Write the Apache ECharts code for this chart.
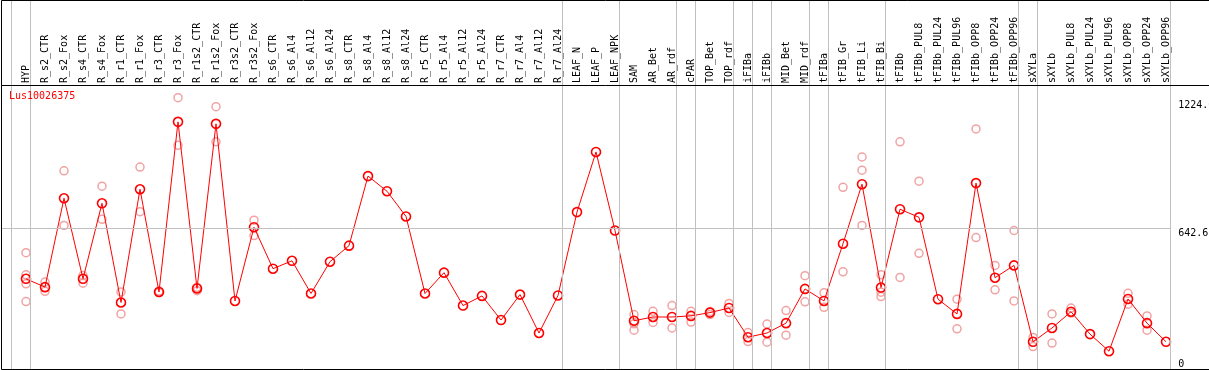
<!DOCTYPE html>
<html>
<head>
<meta charset="utf-8">
<script src="https://cdn.jsdelivr.net/npm/echarts@6/dist/echarts.min.js"></script>
<style>
html,body{margin:0;padding:0;background:#fff;}
#chart{width:1209px;height:370px;}
</style>
</head>
<body>
<div id="chart"></div>
<script>
// ---------- data ----------
const geneName = 'Lus10026375';
const categories = ['HYP','R_s2_CTR','R_s2_Fox','R_s4_CTR','R_s4_Fox','R_r1_CTR','R_r1_Fox','R_r3_CTR','R_r3_Fox',
  'R_r1s2_CTR','R_r1s2_Fox','R_r3s2_CTR','R_r3s2_Fox','R_s6_CTR','R_s6_Al4','R_s6_Al12','R_s6_Al24',
  'R_s8_CTR','R_s8_Al4','R_s8_Al12','R_s8_Al24','R_r5_CTR','R_r5_Al4','R_r5_Al12','R_r5_Al24',
  'R_r7_CTR','R_r7_Al4','R_r7_Al12','R_r7_Al24','LEAF_N','LEAF_P','LEAF_NPK','SAM','AR_Bet','AR_rdf',
  'cPAR','TOP_Bet','TOP_rdf','iFIBa','iFIBb','MID_Bet','MID_rdf','tFIBa','tFIB_Gr','tFIB_Li','tFIB_Bi',
  'tFIBb','tFIBb_PUL8','tFIBb_PUL24','tFIBb_PUL96','tFIBb_OPP8','tFIBb_OPP24','tFIBb_OPP96',
  'sXYLa','sXYLb','sXYLb_PUL8','sXYLb_PUL24','sXYLb_PUL96','sXYLb_OPP8','sXYLb_OPP24','sXYLb_OPP96'];
const meanValues = [411,373,778,411,755,303,819,351,1126,367,1117,310,646,457,493,344,489,562,879,810,695,
  344,439,289,333,223,339,164,335,715,989,631,220,237,237,242,257,278,145,164,209,365,310,571,842,371,
  728,691,318,251,847,416,472,124,187,261,159,81,319,209,124];
const replicates = [
  [530,429,388,307],[396,354],[903,654],[426,391],[833,682],[351,251],[920,717],[355,348],[1236,1019],
  [372,357],[1195,1035],[],[678,608],[],[],[],[],[],[],[],[],[],[],[],[],[],[],[],[],[],[],[],
  [248,206,177],[263,212],[289,187],[263,214],[248,262],[299,258],[166,125],[205,122],[266,154],
  [425,306],[347,281],[828,443],[966,906,654],[429,350,330],[1035,417],[856,527],[],[318,183],
  [1094,599],[472,361],[631,310],[144,102],[251,118],[278,255],[],[],[345,295],[242,177],[]
];
// last category index of each group (group separators)
const groupEnds = [-1,0,28,31,34,35,37,38,39,41,42,45,52,53,60];
const yTickValues = [0, 642.6, 1224];
const yTickLabels = ['0', '642.6', '1224.0'];
const midLine = 642.6;

// ---------- styles / layout ----------
const MONO = 'DejaVu Sans Mono';
const GAP = 0.22;
const X_MIN = -25/19, X_MAX = 60 + GAP;
const Y_MAX = 1294;
const RED = '#ff0000', PINK = '#ee8c8c', GRID = '#c0c0c0';

const repData = [];
replicates.forEach((arr, i) => arr.forEach(v => repData.push([i, v])));
const meanData = meanValues.map((v, i) => [i, v]);

const chart = echarts.init(document.getElementById('chart'), null, {renderer: 'canvas'});
chart.setOption({
  animation: false,
  backgroundColor: '#fff',
  title: {
    text: geneName, left: 9, top: 91, padding: 0,
    textStyle: {color: RED, fontFamily: MONO, fontSize: 10, fontWeight: 'normal'}
  },
  grid: [
    {left: 1, right: 38.8, top: 1, height: 84, outerBoundsMode: 'none', containLabel: false},
    {left: 1, right: 38.8, top: 85, bottom: 1, outerBoundsMode: 'none', containLabel: false}
  ],
  xAxis: [
    {
      gridIndex: 0, type: 'value', min: X_MIN, max: X_MAX, position: 'bottom',
      axisLine: {show: false}, axisTick: {show: false}, splitLine: {show: false},
      axisLabel: {
        inside: true, rotate: 90, margin: 2, hideOverlap: false,
        customValues: categories.map((_, i) => i),
        formatter: v => categories[Math.round(v)],
        fontFamily: MONO, fontSize: 10, color: '#000'
      }
    },
    {gridIndex: 1, type: 'value', min: X_MIN, max: X_MAX, show: false, splitLine: {show: false}}
  ],
  yAxis: [
    {gridIndex: 0, type: 'value', min: 0, max: 1, show: false, splitLine: {show: false}},
    {
      gridIndex: 1, type: 'value', min: 0, max: Y_MAX, position: 'right',
      axisLine: {show: false}, axisTick: {show: false}, splitLine: {show: false},
      axisLabel: {
        customValues: yTickValues,
        formatter: v => yTickLabels[yTickValues.indexOf(v)],
        verticalAlign: 'top', verticalAlignMinLabel: 'bottom', align: 'left', margin: 8,
        fontFamily: MONO, fontSize: 10, color: '#000'
      }
    }
  ],
  graphic: [
    {type: 'rect', silent: true, z: 100, shape: {x: 1.5, y: 0.5, width: 1300, height: 369},
     style: {fill: 'none', stroke: '#000', lineWidth: 1}},
    {type: 'line', silent: true, z: 100, shape: {x1: 1.5, y1: 85.5, x2: 1209, y2: 85.5},
     style: {stroke: '#000', lineWidth: 1}}
  ],
  series: [
    {
      type: 'line', xAxisIndex: 0, yAxisIndex: 0, data: [], silent: true,
      markLine: {
        silent: true, symbol: ['none', 'none'], label: {show: false}, animation: false,
        lineStyle: {color: GRID, type: 'solid', width: 1},
        emphasis: {disabled: true},
        data: groupEnds.map(g => ({xAxis: g + GAP}))
      }
    },
    {
      type: 'line', xAxisIndex: 1, yAxisIndex: 1, data: [], silent: true,
      markLine: {
        silent: true, symbol: ['none', 'none'], label: {show: false}, animation: false,
        lineStyle: {color: GRID, type: 'solid', width: 1},
        emphasis: {disabled: true},
        data: groupEnds.map(g => ({xAxis: g + GAP})).concat([{yAxis: midLine}])
      }
    },
    {
      type: 'scatter', xAxisIndex: 1, yAxisIndex: 1, data: repData, silent: true,
      symbol: 'circle', symbolSize: 8, z: 3,
      itemStyle: {color: 'rgba(0,0,0,0)', borderColor: PINK, borderWidth: 1.5}
    },
    {
      type: 'line', xAxisIndex: 1, yAxisIndex: 1, data: meanData, silent: true,
      symbol: 'circle', symbolSize: 9, z: 4,
      lineStyle: {color: RED, width: 1},
      itemStyle: {color: 'rgba(0,0,0,0)', borderColor: RED, borderWidth: 1.6}
    }
  ]
});
</script>
</body>
</html>
